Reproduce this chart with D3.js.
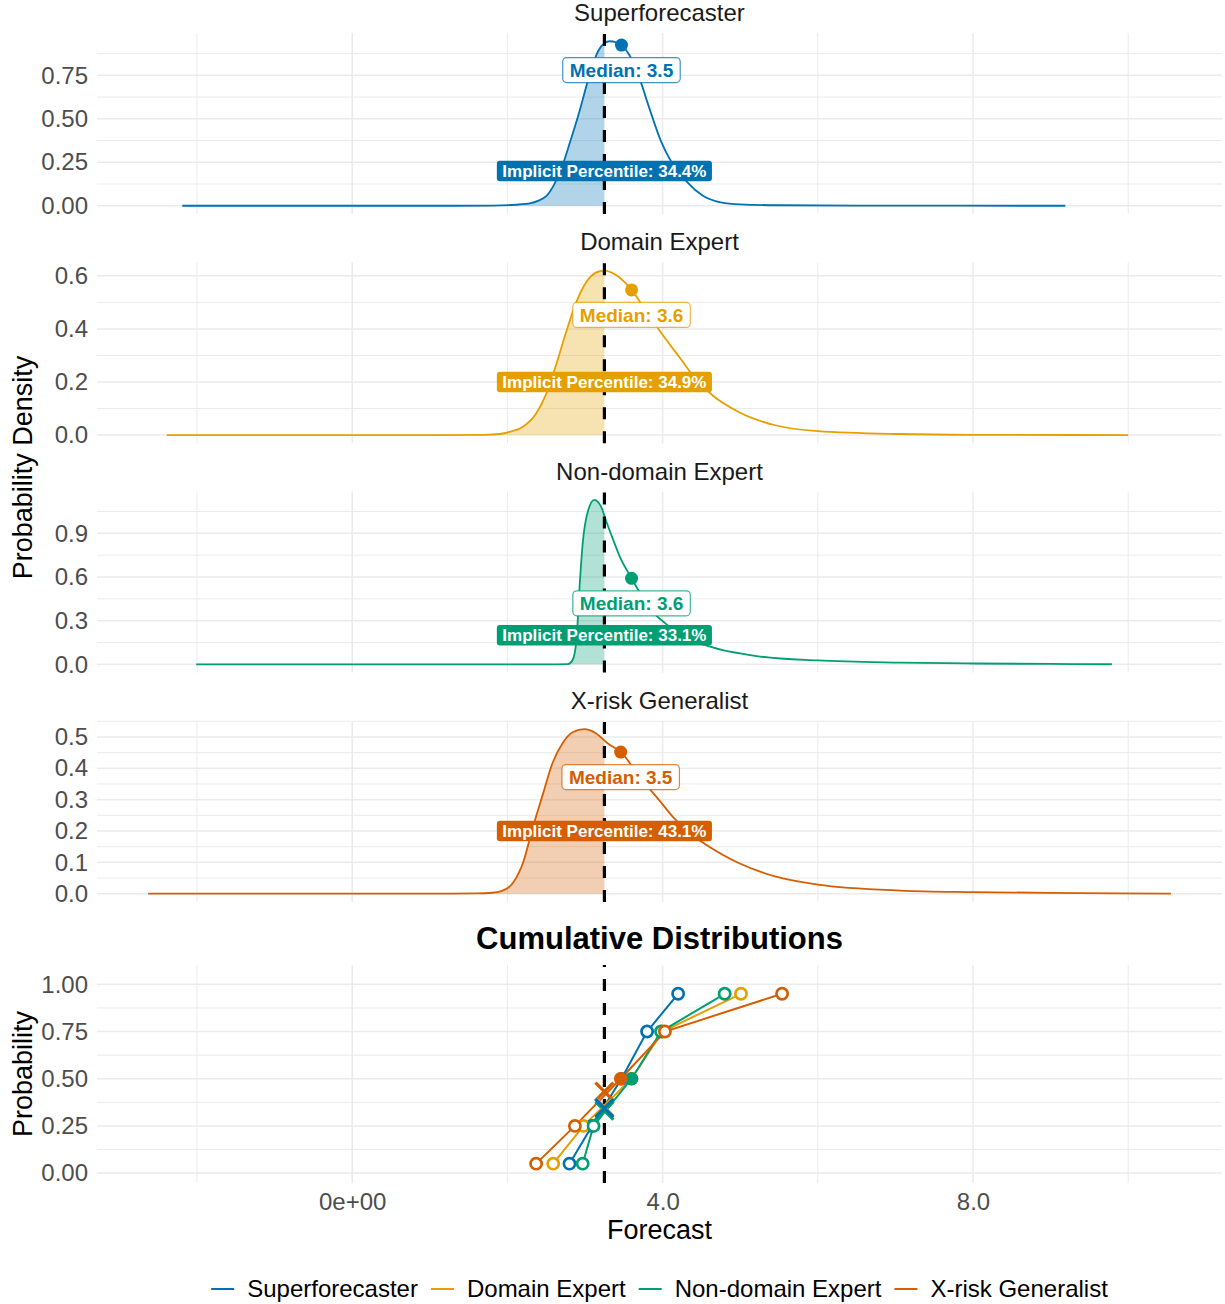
<!DOCTYPE html>
<html>
<head>
<meta charset="utf-8">
<script src="https://cdn.jsdelivr.net/npm/d3@7"></script>
<style>
  body { margin: 0; background: #ffffff; }
  svg text { font-family: "Liberation Sans", Arial, Helvetica, sans-serif; }
</style>
</head>
<body>
<svg id="chart" width="1225" height="1304"></svg>
<script>
// ---- Data -----------------------------------------------------------------

// Forecaster groups, in facet and legend order
const groups = ["Superforecaster", "Domain Expert", "Non-domain Expert", "X-risk Generalist"];
const colors = ["#0072B2", "#E69F00", "#009E73", "#D55E00"];

// Reference forecast marked by the dashed line
const threshold = 3.25;

// Smoothed forecast densities of each group: [forecast, density]
const densitySuperforecaster = [
  [-2.19, 0], [1.0, 0], [1.8, 0.001], [2.1, 0.006], [2.3, 0.015], [2.4, 0.03],
  [2.5, 0.055], [2.6, 0.12], [2.7, 0.22], [2.8, 0.356], [2.93, 0.545], [3.06, 0.754],
  [3.17, 0.89], [3.25, 0.935], [3.32, 0.946], [3.4, 0.94], [3.47, 0.924], [3.57, 0.868],
  [3.7, 0.735], [3.83, 0.56], [3.98, 0.37], [4.11, 0.255], [4.22, 0.19], [4.32, 0.135],
  [4.52, 0.058], [4.75, 0.02], [5.0, 0.008], [5.5, 0.003], [6.5, 0.001], [9.19, 0]
];
const densityDomainExpert = [
  [-2.39, 0], [1.0, 0], [1.7, 0.001], [1.9, 0.004], [2.03, 0.012], [2.2, 0.031],
  [2.37, 0.081], [2.5, 0.155], [2.63, 0.267], [2.76, 0.391], [2.89, 0.503], [3.02, 0.578],
  [3.14, 0.612], [3.25, 0.62], [3.4, 0.603], [3.6, 0.547], [3.79, 0.466], [4.0, 0.378],
  [4.22, 0.292], [4.43, 0.21], [4.65, 0.148], [4.98, 0.087], [5.45, 0.037], [6.0, 0.015],
  [7.06, 0.004], [8.0, 0.001], [10.0, 0]
];
const densityNonDomainExpert = [
  [-2.01, 0], [2.5, 0], [2.78, 0.002], [2.84, 0.03], [2.89, 0.17], [2.93, 0.534],
  [2.97, 0.83], [3.04, 1.057], [3.12, 1.13], [3.21, 1.08], [3.27, 0.988], [3.36, 0.86],
  [3.45, 0.738], [3.6, 0.591], [3.79, 0.42], [3.92, 0.334], [4.04, 0.28], [4.22, 0.205],
  [4.59, 0.125], [5.21, 0.057], [6.0, 0.027], [7.06, 0.012], [8.0, 0.006], [9.0, 0.003],
  [9.79, 0.001]
];
const densityXriskGeneralist = [
  [-2.63, 0], [1.0, 0], [1.6, 0.001], [1.8, 0.003], [1.92, 0.008], [2.07, 0.034],
  [2.2, 0.098], [2.33, 0.214], [2.46, 0.32], [2.58, 0.416], [2.71, 0.48], [2.84, 0.515],
  [2.99, 0.525], [3.14, 0.512], [3.29, 0.48], [3.47, 0.45], [3.7, 0.374], [3.83, 0.335],
  [3.95, 0.3], [4.15, 0.24], [4.39, 0.185], [4.55, 0.158], [4.98, 0.098], [5.45, 0.055],
  [6.0, 0.029], [7.06, 0.01], [8.0, 0.005], [9.36, 0.002], [10.55, 0]
];

// Group medians and the share of each distribution below the threshold
const medians = [3.47, 3.6, 3.6, 3.46];
const implicitPercentiles = [0.344, 0.349, 0.331, 0.431];

// Elicited quantiles: forecasts at each cumulative probability level
const quantileLevels = [0.05, 0.25, 0.5, 0.75, 0.95];
const quantilesSuperforecaster = [2.80, 3.09, 3.47, 3.80, 4.20];
const quantilesDomainExpert = [2.59, 2.98, 3.60, 4.00, 5.01];
const quantilesNonDomainExpert = [2.97, 3.11, 3.60, 3.98, 4.80];
const quantilesXriskGeneralist = [2.37, 2.87, 3.46, 4.03, 5.54];

// Axis ticks
const xTickValues = [0, 4, 8];
const xTickLabels = ["0e+00", "4.0", "8.0"];
const densityTicks = [
  [0, 0.25, 0.5, 0.75],
  [0, 0.2, 0.4, 0.6],
  [0, 0.3, 0.6, 0.9],
  [0, 0.1, 0.2, 0.3, 0.4, 0.5]
];
const probabilityTicks = [0, 0.25, 0.5, 0.75, 1];
const probabilityLimits = [0, 1.05];

// ---- Layout ---------------------------------------------------------------

const densities = [densitySuperforecaster, densityDomainExpert, densityNonDomainExpert, densityXriskGeneralist];
const quantileSets = [quantilesSuperforecaster, quantilesDomainExpert, quantilesNonDomainExpert, quantilesXriskGeneralist];

const plotLeft = 97, plotRight = 1222;
const densityTop = 33, panelStep = 229.3, panelHeight = 181;
const cumTop = 965, cumBottom = 1183;
const gridColor = "#EBEBEB";
const tickColor = "#4D4D4D";

const svg = d3.select("#chart");
svg.append("rect").attr("width", 1225).attr("height", 1304).attr("fill", "#ffffff");

// Shared x scale: data range plus 5% padding on each side
const allX = densities.flat().map(d => d[0]);
const [xLo, xHi] = d3.extent(allX);
const xPad = (xHi - xLo) * 0.05;
const x = d3.scaleLinear().domain([xLo - xPad, xHi + xPad]).range([plotLeft, plotRight]);

function minorBreaks(ticks, domain) {
  const step = ticks[1] - ticks[0];
  const out = [];
  for (let k = -1; k < ticks.length; k++) {
    const m = ticks[0] + (k + 0.5) * step;
    if (m >= domain[0] && m <= domain[1]) out.push(m);
  }
  return out;
}

// number of decimals needed so every tick label is exact
function tickDecimals(ticks) {
  let n = 0;
  while (n < 6 && ticks.some(t => Math.abs(Math.round(t * 10 ** n) - t * 10 ** n) > 1e-9)) n++;
  return Math.max(n, 1);
}

function drawGrid(g, y, yTicks, top, bottom) {
  const xMinor = minorBreaks(xTickValues, x.domain());
  const yMinor = minorBreaks(yTicks, y.domain());
  g.selectAll(null).data(yMinor).join("line")
    .attr("x1", plotLeft).attr("x2", plotRight)
    .attr("y1", d => y(d)).attr("y2", d => y(d))
    .attr("stroke", gridColor).attr("stroke-width", 1.0);
  g.selectAll(null).data(xMinor).join("line")
    .attr("x1", d => x(d)).attr("x2", d => x(d))
    .attr("y1", top).attr("y2", bottom)
    .attr("stroke", gridColor).attr("stroke-width", 1.0);
  g.selectAll(null).data(yTicks).join("line")
    .attr("x1", plotLeft).attr("x2", plotRight)
    .attr("y1", d => y(d)).attr("y2", d => y(d))
    .attr("stroke", gridColor).attr("stroke-width", 1.5);
  g.selectAll(null).data(xTickValues).join("line")
    .attr("x1", d => x(d)).attr("x2", d => x(d))
    .attr("y1", top).attr("y2", bottom)
    .attr("stroke", gridColor).attr("stroke-width", 1.5);
}

function drawYAxis(g, y, yTicks) {
  const fmt = d3.format("." + tickDecimals(yTicks) + "f");
  const axis = d3.axisLeft(y).tickValues(yTicks).tickFormat(fmt).tickSize(0).tickPadding(9);
  const ag = g.append("g").attr("transform", `translate(${plotLeft},0)`).call(axis);
  ag.select(".domain").remove();
  ag.selectAll("text")
    .attr("fill", tickColor)
    .attr("font-size", 24)
    .attr("font-family", "Liberation Sans, Arial, sans-serif");
}

function dashedLine(g, top, bottom) {
  g.append("line")
    .attr("x1", x(threshold)).attr("x2", x(threshold))
    .attr("y1", bottom).attr("y2", top)
    .attr("stroke", "#000000").attr("stroke-width", 3.2)
    .attr("stroke-dasharray", "12,12");
}

function densityAt(series, v) {
  for (let k = 1; k < series.length; k++) {
    const [x0, y0] = series[k - 1], [x1, y1] = series[k];
    if (v >= x0 && v <= x1) return y0 + (y1 - y0) * (v - x0) / (x1 - x0);
  }
  return 0;
}

// ---- Density panels -------------------------------------------------------

const fmt1 = d3.format(".1f");

groups.forEach((name, i) => {
  const dens = densities[i];
  const color = colors[i];
  const top = densityTop + i * panelStep;
  const bottom = top + panelHeight;
  const ymax = d3.max(dens, d => d[1]);
  const y = d3.scaleLinear().domain([-0.05 * ymax, 1.05 * ymax]).range([bottom, top]);

  const g = svg.append("g");

  // facet strip title
  g.append("text")
    .attr("x", (plotLeft + plotRight) / 2).attr("y", top - 12)
    .attr("text-anchor", "middle")
    .attr("font-size", 24).attr("fill", "#1A1A1A")
    .text(name);

  drawGrid(g, y, densityTicks[i], top, bottom);
  drawYAxis(g, y, densityTicks[i]);

  // shaded area left of the threshold
  const clipId = "clip-below-" + i;
  svg.append("clipPath").attr("id", clipId)
    .append("rect")
    .attr("x", plotLeft).attr("y", top)
    .attr("width", x(threshold) - plotLeft).attr("height", panelHeight);

  const area = d3.area().x(d => x(d[0])).y0(y(0)).y1(d => y(d[1])).curve(d3.curveMonotoneX);
  g.append("path").datum(dens)
    .attr("d", area)
    .attr("fill", color).attr("fill-opacity", 0.3)
    .attr("clip-path", `url(#${clipId})`);

  const line = d3.line().x(d => x(d[0])).y(d => y(d[1])).curve(d3.curveMonotoneX);
  g.append("path").datum(dens)
    .attr("d", line)
    .attr("fill", "none").attr("stroke", color).attr("stroke-width", 1.8);

  dashedLine(g, top, bottom);

  // median marker on the curve
  const mx = x(medians[i]);
  const my = y(densityAt(dens, medians[i]));
  g.append("circle").attr("cx", mx).attr("cy", my).attr("r", 6.5).attr("fill", color);

  // implicit percentile label at the threshold
  const pg = g.append("g").attr("transform", `translate(${x(threshold)},${y(0.2)})`);
  const pt = pg.append("text")
    .attr("text-anchor", "middle").attr("dy", "0.36em")
    .attr("font-size", 17).attr("font-weight", "bold").attr("fill", "#ffffff")
    .text(`Implicit Percentile: ${fmt1(implicitPercentiles[i] * 100)}%`);
  const pw = pt.node().getComputedTextLength();
  pg.insert("rect", "text")
    .attr("x", -pw / 2 - 5.5).attr("y", -10.25)
    .attr("width", pw + 11).attr("height", 20.5)
    .attr("rx", 3).attr("fill", color);

  // median label just below the marker
  const mg = g.append("g").attr("transform", `translate(${mx},${my + 25})`);
  const mt = mg.append("text")
    .attr("text-anchor", "middle").attr("dy", "0.36em")
    .attr("font-size", 19).attr("font-weight", "bold").attr("fill", color)
    .text(`Median: ${fmt1(medians[i])}`);
  const mw = mt.node().getComputedTextLength();
  mg.insert("rect", "text")
    .attr("x", -mw / 2 - 7).attr("y", -12.5)
    .attr("width", mw + 14).attr("height", 25)
    .attr("rx", 4).attr("fill", "#ffffff")
    .attr("stroke", color).attr("stroke-opacity", 0.75).attr("stroke-width", 1.2);
});

// shared y title for the density panels
const densMid = densityTop + (3 * panelStep + panelHeight) / 2;
svg.append("text")
  .attr("transform", `translate(32,${densMid}) rotate(-90)`)
  .attr("text-anchor", "middle")
  .attr("font-size", 27).attr("fill", "#000000")
  .text("Probability Density");

// ---- Cumulative panel -----------------------------------------------------

const cg = svg.append("g");
const pSpan = probabilityLimits[1] - probabilityLimits[0];
const yc = d3.scaleLinear()
  .domain([probabilityLimits[0] - 0.05 * pSpan, probabilityLimits[1] + 0.05 * pSpan])
  .range([cumBottom, cumTop]);

cg.append("text")
  .attr("x", (plotLeft + plotRight) / 2).attr("y", cumTop - 16)
  .attr("text-anchor", "middle")
  .attr("font-size", 31).attr("font-weight", "bold").attr("fill", "#000000")
  .text("Cumulative Distributions");

drawGrid(cg, yc, probabilityTicks, cumTop, cumBottom);
drawYAxis(cg, yc, probabilityTicks);
dashedLine(cg, cumTop, cumBottom);

const cumLine = d3.line().x(d => x(d[0])).y(d => yc(d[1]));
quantileSets.forEach((qs, i) => {
  const pts = qs.map((v, k) => [v, quantileLevels[k]]);
  cg.append("path").datum(pts)
    .attr("d", cumLine)
    .attr("fill", "none").attr("stroke", colors[i]).attr("stroke-width", 2);
});

quantileSets.forEach((qs, i) => {
  const pts = qs.map((v, k) => ({ v, p: quantileLevels[k] }));
  cg.selectAll(null).data(pts).join("circle")
    .attr("cx", d => x(d.v)).attr("cy", d => yc(d.p))
    .attr("r", d => d.p === 0.5 ? 6.8 : 5.6)
    .attr("fill", d => d.p === 0.5 ? colors[i] : "#ffffff")
    .attr("stroke", colors[i])
    .attr("stroke-width", d => d.p === 0.5 ? 0 : 2.7);
});

// implied position of the threshold on each cumulative curve (first group on top)
implicitPercentiles.map((p, i) => ({ p, i })).reverse().forEach(({ p, i }) => {
  const cx = x(threshold), cy = yc(p), s = 9;
  cg.append("path")
    .attr("d", `M${cx - s},${cy - s}L${cx + s},${cy + s}M${cx - s},${cy + s}L${cx + s},${cy - s}`)
    .attr("stroke", colors[i]).attr("stroke-width", 3.2).attr("fill", "none");
});

// x axis (bottom panel only)
const xAxis = d3.axisBottom(x)
  .tickValues(xTickValues)
  .tickFormat((d, k) => xTickLabels[k])
  .tickSize(0).tickPadding(10);
const xag = svg.append("g").attr("transform", `translate(0,${cumBottom})`).call(xAxis);
xag.select(".domain").remove();
xag.selectAll("text")
  .attr("fill", tickColor).attr("font-size", 24)
  .attr("font-family", "Liberation Sans, Arial, sans-serif");

svg.append("text")
  .attr("x", (plotLeft + plotRight) / 2).attr("y", 1239)
  .attr("text-anchor", "middle")
  .attr("font-size", 27).attr("fill", "#000000")
  .text("Forecast");

svg.append("text")
  .attr("transform", `translate(32,${(cumTop + cumBottom) / 2}) rotate(-90)`)
  .attr("text-anchor", "middle")
  .attr("font-size", 27).attr("fill", "#000000")
  .text("Probability");

// ---- Legend ---------------------------------------------------------------

const legend = svg.append("g");
const keyLen = 23, keyGap = 13, itemGap = 13, legendY = 1289;
let cursor = 0;
const items = groups.map((name, i) => {
  const ig = legend.append("g");
  ig.append("line")
    .attr("x1", 0).attr("x2", keyLen).attr("y1", 0).attr("y2", 0)
    .attr("stroke", colors[i]).attr("stroke-width", 2);
  const t = ig.append("text")
    .attr("x", keyLen + keyGap).attr("dy", "0.35em")
    .attr("font-size", 24).attr("fill", "#000000")
    .text(name);
  const w = keyLen + keyGap + t.node().getComputedTextLength();
  const item = { g: ig, offset: cursor };
  cursor += w + itemGap;
  return item;
});
const legendWidth = cursor - itemGap;
const legendStart = (plotLeft + plotRight) / 2 - legendWidth / 2;
items.forEach(it => it.g.attr("transform", `translate(${legendStart + it.offset},${legendY})`));
</script>
</body>
</html>
